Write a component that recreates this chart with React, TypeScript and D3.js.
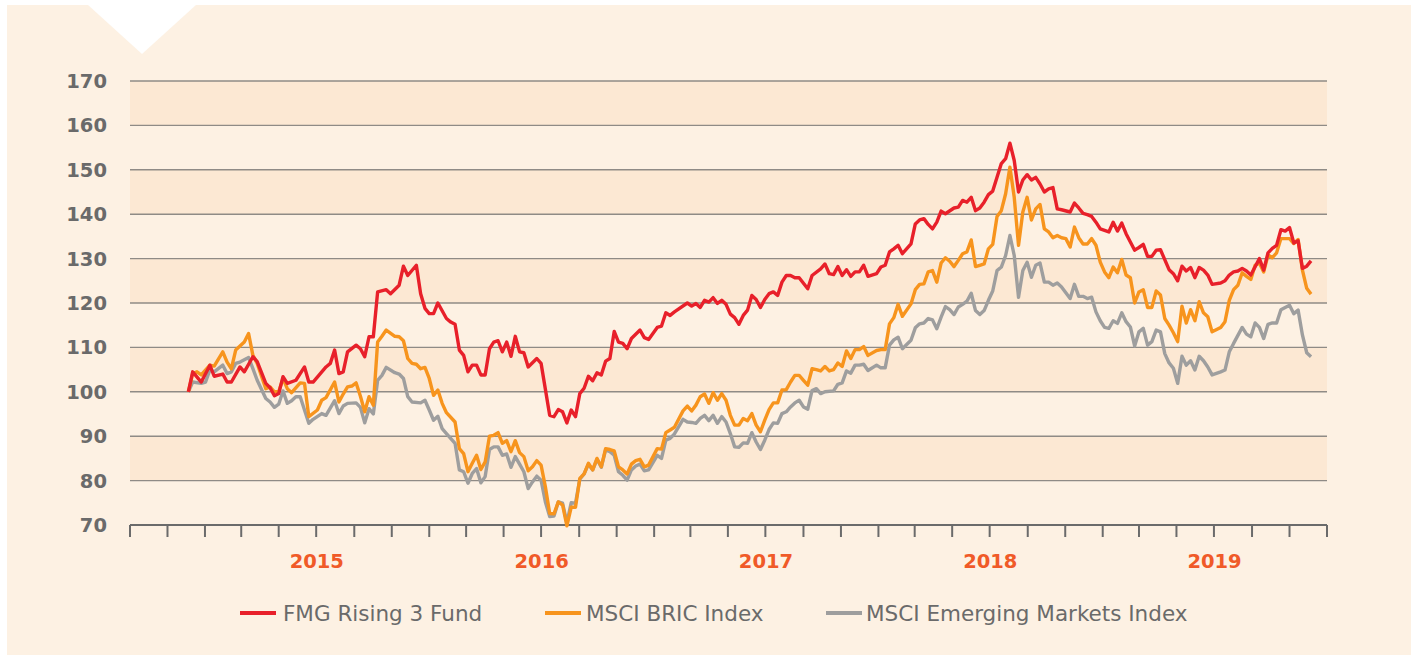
import React from 'react';
import * as d3 from 'd3';

// ---------- data ----------
const seriesStart = new Date(2014, 11, 5); // first weekly observation
const axisStart = new Date(2014, 8, 1);
const axisEnd = new Date(2020, 0, 1);
const yTicks = [70, 80, 90, 100, 110, 120, 130, 140, 150, 160, 170];
const yearLabels = [2015, 2016, 2017, 2018, 2019];
const seriesNames = ['FMG Rising 3 Fund', 'MSCI BRIC Index', 'MSCI Emerging Markets Index'];
const seriesColors = ['#E8202A', '#F7941D', '#9E9E9E'];

// [week number since first observation, index value]
const fundSeries: [number, number][] = [
  [0,100],[1,104.5],[3,102.2],[5,106],[6,103.5],[8,104],[9,102.2],[10,102.2],[12,105.6],[13,104.5],[15,107.9],[16,106.8],[18,101.9],[19,100.9],[20,99.1],[21,99.6],[22,103.4],[23,101.9],[25,102.6],[27,105.6],[28,102.2],[29,102.2],[32,105.6],[33,106.4],[34,109.4],[35,104.1],[36,104.5],[37,109],[39,110.5],[40,109.7],[41,107.9],[42,112.4],[43,112.4],[44,122.5],[46,123],[47,122.1],[49,124],[50,128.3],[51,126.2],[53,128.5],[54,122.1],[55,118.8],[56,117.6],[57,117.6],[58,120],[60,116.5],[61,115.7],[62,115.2],[63,109.4],[64,108.2],[65,104.5],[66,106],[67,106],[68,103.8],[69,103.8],[70,109.7],[71,111.2],[72,111.5],[73,109],[74,111.2],[75,108],[76,112.5],[77,109],[78,108.8],[79,105.6],[81,107.5],[82,106.4],[84,94.7],[85,94.4],[86,96],[87,95.5],[88,93],[89,95.9],[90,94.4],[91,99.6],[92,100.8],[93,103.5],[94,102.5],[95,104.3],[96,103.8],[97,106.9],[98,107.5],[99,113.6],[100,111.2],[101,110.9],[102,109.7],[103,112],[105,113.9],[106,112.2],[107,111.8],[109,114.5],[110,114.8],[111,117.8],[112,117.2],[113,118],[116,120],[117,119.3],[118,119.9],[119,119],[120,120.6],[121,120.2],[122,121.2],[123,119.9],[124,120.6],[125,119.7],[126,117.5],[127,116.7],[128,115.2],[129,117.2],[130,118.4],[131,121.7],[132,120.8],[133,119],[134,120.8],[135,122.1],[136,122.5],[137,121.7],[138,124.7],[139,126.2],[140,126.2],[141,125.7],[142,125.7],[144,123.2],[145,126.2],[147,127.7],[148,128.8],[149,126.6],[150,126.4],[151,128.2],[152,126.2],[153,127.5],[154,126],[155,127],[156,127],[157,128.5],[158,126],[160,126.6],[161,128.1],[162,128.5],[163,131.5],[164,132.2],[165,133],[166,131.1],[168,133.3],[169,137.8],[170,138.7],[171,139],[172,137.7],[173,136.7],[174,138.2],[175,140.7],[176,140.1],[178,141.4],[179,141.6],[180,143.1],[181,142.7],[182,143.8],[183,140.8],[184,141.4],[185,142.7],[186,144.4],[187,145.2],[188,148.3],[189,151.4],[190,152.5],[191,156],[192,152.1],[193,145],[194,147.7],[195,148.9],[196,147.7],[197,148.3],[198,146.8],[199,145],[200,145.7],[201,146],[202,141.2],[203,141],[205,140.5],[206,142.5],[207,141.4],[208,140.2],[209,139.9],[210,139.5],[211,138.2],[212,136.7],[214,136],[215,138.2],[216,136.2],[217,138],[218,135.6],[220,131.9],[221,132.5],[222,133.2],[223,130.5],[224,130.5],[225,131.9],[226,132],[228,127.5],[229,126.6],[230,125],[231,128.3],[232,127.2],[233,128],[234,125.7],[235,128],[236,127.4],[237,126.3],[238,124.2],[240,124.5],[241,125],[242,126.3],[243,127],[244,127.2],[245,127.8],[246,127.2],[247,126.3],[249,130],[250,127.4],[251,131.3],[252,132.3],[253,133],[254,136.5],[255,136.2],[256,137],[257,133.5],[258,134],[259,127.8],[260,128.3],[261,129.5]
];

const bricSeries: [number, number][] = [
  [0,100],[1,104.1],[2,104.5],[3,103.8],[5,106],[6,105.8],[8,109],[9,106.7],[10,105.2],[11,109.4],[12,110.3],[13,111.2],[14,113.1],[15,108.2],[16,106.4],[18,100.7],[19,101.1],[20,100],[21,100],[22,103],[23,100.7],[24,99.8],[26,102],[27,101.9],[28,94.4],[30,95.9],[31,98.1],[32,98.7],[34,102.2],[35,97.7],[36,99.5],[37,101.1],[38,101.3],[39,102],[40,99],[41,95.5],[42,98.9],[43,97],[44,111.2],[45,112.5],[46,113.9],[48,112.5],[49,112.4],[50,111.5],[51,107.5],[52,106.4],[53,106.2],[54,105.2],[55,105.5],[56,103],[57,99.2],[58,100.4],[59,97.4],[60,95.3],[62,93.2],[63,87.2],[64,86.1],[65,82],[66,83.9],[67,85.7],[68,82.5],[69,84.2],[70,90],[71,90.2],[72,90.8],[73,88.4],[74,89],[75,86.5],[76,89],[77,86.3],[78,85.4],[79,82.2],[80,83.1],[81,84.5],[82,83.5],[83,78.6],[84,72.6],[85,72.5],[86,75.2],[87,74.5],[88,69.8],[89,74],[90,74],[91,80.5],[92,81.5],[93,83.9],[94,82.4],[95,85],[96,83.1],[97,87.2],[98,87],[99,86.7],[100,83.1],[101,82.4],[102,81.5],[103,83.7],[104,84.5],[105,84.8],[106,83.1],[107,83.5],[109,87.2],[110,87.1],[111,90.8],[112,91.4],[113,92],[115,95.7],[116,96.8],[117,95.7],[118,97],[119,98.9],[120,99.5],[121,97.4],[122,99.8],[123,98.1],[124,99.6],[125,98.1],[126,94.7],[127,92.5],[128,92.5],[129,94],[130,93.5],[131,95.1],[132,92.5],[133,91],[134,93.6],[135,96],[136,97.5],[137,97.5],[138,100.4],[139,100.5],[140,102.2],[141,103.7],[142,103.7],[143,102.6],[144,101.5],[145,105.2],[146,105],[147,104.7],[148,105.7],[149,104.7],[150,105],[151,106.5],[152,105.7],[153,109.2],[154,107.5],[155,109.5],[156,109.5],[157,110.2],[158,108.2],[160,109.3],[161,109.5],[162,109.5],[163,115.3],[164,116.7],[165,119.7],[166,117],[168,119.8],[169,123],[170,124.2],[171,124.3],[172,127],[173,127.3],[174,124.7],[175,129],[176,130.2],[177,129.4],[178,128.2],[179,129.6],[180,131.1],[181,131.5],[182,134.2],[183,128.2],[184,128.5],[185,128.8],[186,132.2],[187,133.2],[188,139.5],[189,140.8],[190,144.6],[191,150.6],[192,143.8],[193,133],[194,140.5],[195,143.8],[196,138.7],[197,141.2],[198,142.2],[199,136.7],[200,136],[201,134.7],[202,135.2],[203,134.7],[204,134.5],[205,132.6],[206,137.1],[207,134.7],[208,133.3],[209,133.3],[210,134.5],[211,133],[212,129.2],[213,127],[214,125.7],[215,128.1],[216,126.8],[217,129.8],[218,126.3],[219,125.7],[220,120],[221,122.5],[222,123],[223,119],[224,119],[225,122.7],[226,121.8],[227,116.5],[228,115],[229,113.3],[230,111.3],[231,119.3],[232,115.5],[233,118.5],[234,116],[235,120.3],[236,117.8],[237,116.9],[238,113.5],[240,114.5],[241,115.8],[242,120.6],[243,123],[244,124],[245,126.8],[246,126],[247,125.3],[248,128.5],[249,129],[250,127],[251,130.8],[252,130.2],[253,131.3],[254,134.5],[255,134.5],[256,134.5],[257,133.4],[258,134.3],[259,127.4],[260,123.3],[261,122]
];

const emSeries: [number, number][] = [
  [0,100],[1,102.2],[3,101.9],[4,102.2],[5,104.9],[6,104.5],[8,106],[9,104.1],[10,104.5],[11,106.4],[12,106.7],[14,107.7],[15,105.2],[16,102.6],[18,98.5],[19,97.7],[20,96.5],[21,97.2],[22,100.2],[23,97.4],[24,98],[25,98.9],[26,98.9],[28,92.9],[29,93.8],[31,95.1],[32,94.7],[34,98],[35,95.1],[36,96.8],[37,97.4],[39,97.5],[40,96.5],[41,93],[42,96.2],[43,95],[44,102.6],[45,103.7],[46,105.5],[48,104.3],[49,104],[50,103],[51,98.9],[52,97.7],[54,97.5],[55,98.1],[56,95.9],[57,93.6],[58,94.5],[59,91.7],[60,90.6],[62,88.4],[63,82.4],[64,82],[65,79.4],[66,81.6],[67,82.7],[68,79.5],[69,80.9],[70,87],[71,87.6],[72,87.6],[73,85.7],[74,86],[75,83],[76,85.4],[77,83.7],[78,82],[79,78.2],[80,79.7],[81,81],[82,80.1],[83,75.2],[84,71.9],[85,72],[86,75.2],[87,74.9],[88,70.5],[89,75],[90,74.9],[91,80.3],[92,81.5],[93,83.7],[94,82.4],[95,84.8],[96,83],[97,86.9],[98,86.5],[99,85.7],[100,82],[101,81.2],[102,80.1],[103,82.4],[104,83.3],[105,83.7],[106,82.2],[107,82.4],[109,85.7],[110,85],[111,89.1],[112,89.5],[113,90.5],[115,93.8],[116,93.2],[117,93.1],[118,92.9],[119,94],[120,94.7],[121,93.5],[122,94.7],[123,92.9],[124,94.4],[125,93.2],[126,90.6],[127,87.6],[128,87.5],[129,88.5],[130,88.4],[131,90.8],[132,88.7],[133,87],[134,89.1],[135,91.5],[136,93],[137,92.9],[138,95.1],[139,95.5],[140,96.6],[141,97.5],[142,98.1],[143,96.6],[144,96.1],[145,100.3],[146,100.7],[147,99.6],[148,100],[150,100.2],[151,101.7],[152,102],[153,104.7],[154,104.2],[155,106],[156,106],[157,106.2],[158,104.8],[160,106],[161,105.4],[162,105.4],[163,110.5],[164,111.7],[165,112.3],[166,109.7],[168,111.6],[169,114.4],[170,115.3],[171,115.5],[172,116.5],[173,116.2],[174,114.2],[175,116.8],[176,119.2],[177,118.5],[178,117.4],[179,119.1],[180,119.7],[181,120.4],[182,122.2],[183,118.3],[184,117.4],[185,118.3],[186,120.6],[187,122.7],[188,127.3],[189,128.1],[190,130.7],[191,135.2],[192,130.7],[193,121.3],[194,127.3],[195,129.2],[196,125.8],[197,128.5],[198,129],[199,124.7],[200,124.7],[201,124],[202,124.5],[203,123.6],[205,121],[206,124.2],[207,121.5],[208,121.5],[209,121],[210,121.3],[211,118],[212,116],[213,114.5],[214,114.3],[215,116],[216,115.4],[217,117.8],[218,115.8],[219,114.6],[220,110.3],[221,113.5],[222,114.3],[223,110.5],[224,111.3],[225,113.9],[226,113.5],[227,108.6],[228,106.5],[229,105.3],[230,101.9],[231,108],[232,106],[233,107],[234,104.9],[235,108],[236,107],[237,105.6],[238,103.8],[240,104.5],[241,104.9],[242,109],[243,110.9],[245,114.5],[246,113],[247,112.4],[248,115.5],[249,114.5],[250,112],[251,115.2],[252,115.5],[253,115.5],[254,118.5],[255,119],[256,119.5],[257,117.6],[258,118.4],[259,112.8],[260,108.8],[261,107.9]
];

// ---------- component ----------
const W = 1418;
const H = 658;
const plot = { left: 130, right: 1327, top: 81, bottom: 525 };
const panelFill = '#FDF1E3';
const bandFill = '#FCE8D3';

export default function App() {
  const x = d3.scaleTime().domain([axisStart, axisEnd]).range([plot.left, plot.right]);
  const y = d3.scaleLinear().domain([70, 170]).range([plot.bottom, plot.top]);
  const toDate = (w: number) => d3.timeDay.offset(seriesStart, Math.round(w * 7));
  const line = d3
    .line<[number, number]>()
    .x((d) => x(toDate(d[0])))
    .y((d) => y(d[1]));

  const tickDates = d3.timeMonth.every(2)!.range(axisStart, d3.timeDay.offset(axisEnd, 1));
  const bands = yTicks.slice(0, -1).filter((_, i) => i % 2 === 1);
  const allSeries = [emSeries, bricSeries, fundSeries];
  const drawColors = [seriesColors[2], seriesColors[1], seriesColors[0]];

  const legendItems = [
    { lx: 240, tx: 283 },
    { lx: 545, tx: 586 },
    { lx: 826, tx: 866 },
  ];

  return (
    <svg
      width={W}
      height={H}
      style={{ position: 'absolute', left: 0, top: 0, display: 'block' }}
      fontFamily="'DejaVu Sans', Verdana, sans-serif"
    >
      <rect x={0} y={0} width={W} height={H} fill="#ffffff" />
      <rect x={7} y={5} width={1404} height={650} fill={panelFill} />
      <polygon points="88,5 196,5 142,54" fill="#ffffff" />

      {/* alternating bands */}
      {bands.map((v) => (
        <rect
          key={'b' + v}
          x={plot.left}
          y={y(v + 10)}
          width={plot.right - plot.left}
          height={y(v) - y(v + 10)}
          fill={bandFill}
        />
      ))}

      {/* gridlines */}
      {yTicks.slice(1).map((v) => (
        <line
          key={'g' + v}
          x1={plot.left}
          x2={plot.right}
          y1={y(v)}
          y2={y(v)}
          stroke="#8f8b86"
          strokeWidth={1.4}
        />
      ))}

      {/* y labels */}
      {yTicks.map((v) => (
        <text
          key={'yl' + v}
          x={107}
          y={y(v)}
          dy="0.36em"
          textAnchor="end"
          fontSize={19.5}
          fontWeight="bold"
          fill="#6a6a6a"
        >
          {v}
        </text>
      ))}

      {/* x axis */}
      <line x1={plot.left} x2={plot.right} y1={plot.bottom} y2={plot.bottom} stroke="#6b6b6b" strokeWidth={2} />
      {tickDates.map((d, i) => (
        <line
          key={'t' + i}
          x1={x(d)}
          x2={x(d)}
          y1={plot.bottom}
          y2={plot.bottom + 12}
          stroke="#6b6b6b"
          strokeWidth={2}
        />
      ))}
      {yearLabels.map((yr) => (
        <text
          key={'yr' + yr}
          x={x(new Date(yr, 6, 2))}
          y={568}
          textAnchor="middle"
          fontSize={19.5}
          fontWeight="bold"
          fill="#F05A28"
        >
          {yr}
        </text>
      ))}

      {/* series */}
      {allSeries.map((s, i) => (
        <path
          key={'s' + i}
          d={line(s) || ''}
          fill="none"
          stroke={drawColors[i]}
          strokeWidth={3.4}
          strokeLinejoin="round"
        />
      ))}

      {/* legend */}
      {seriesNames.map((name, i) => (
        <g key={'lg' + i}>
          <line
            x1={legendItems[i].lx}
            x2={legendItems[i].lx + 36}
            y1={613}
            y2={613}
            stroke={seriesColors[i]}
            strokeWidth={4}
          />
          <text x={legendItems[i].tx} y={613} dy="0.36em" fontSize={21.5} fill="#6a6a6a">
            {name}
          </text>
        </g>
      ))}
    </svg>
  );
}
